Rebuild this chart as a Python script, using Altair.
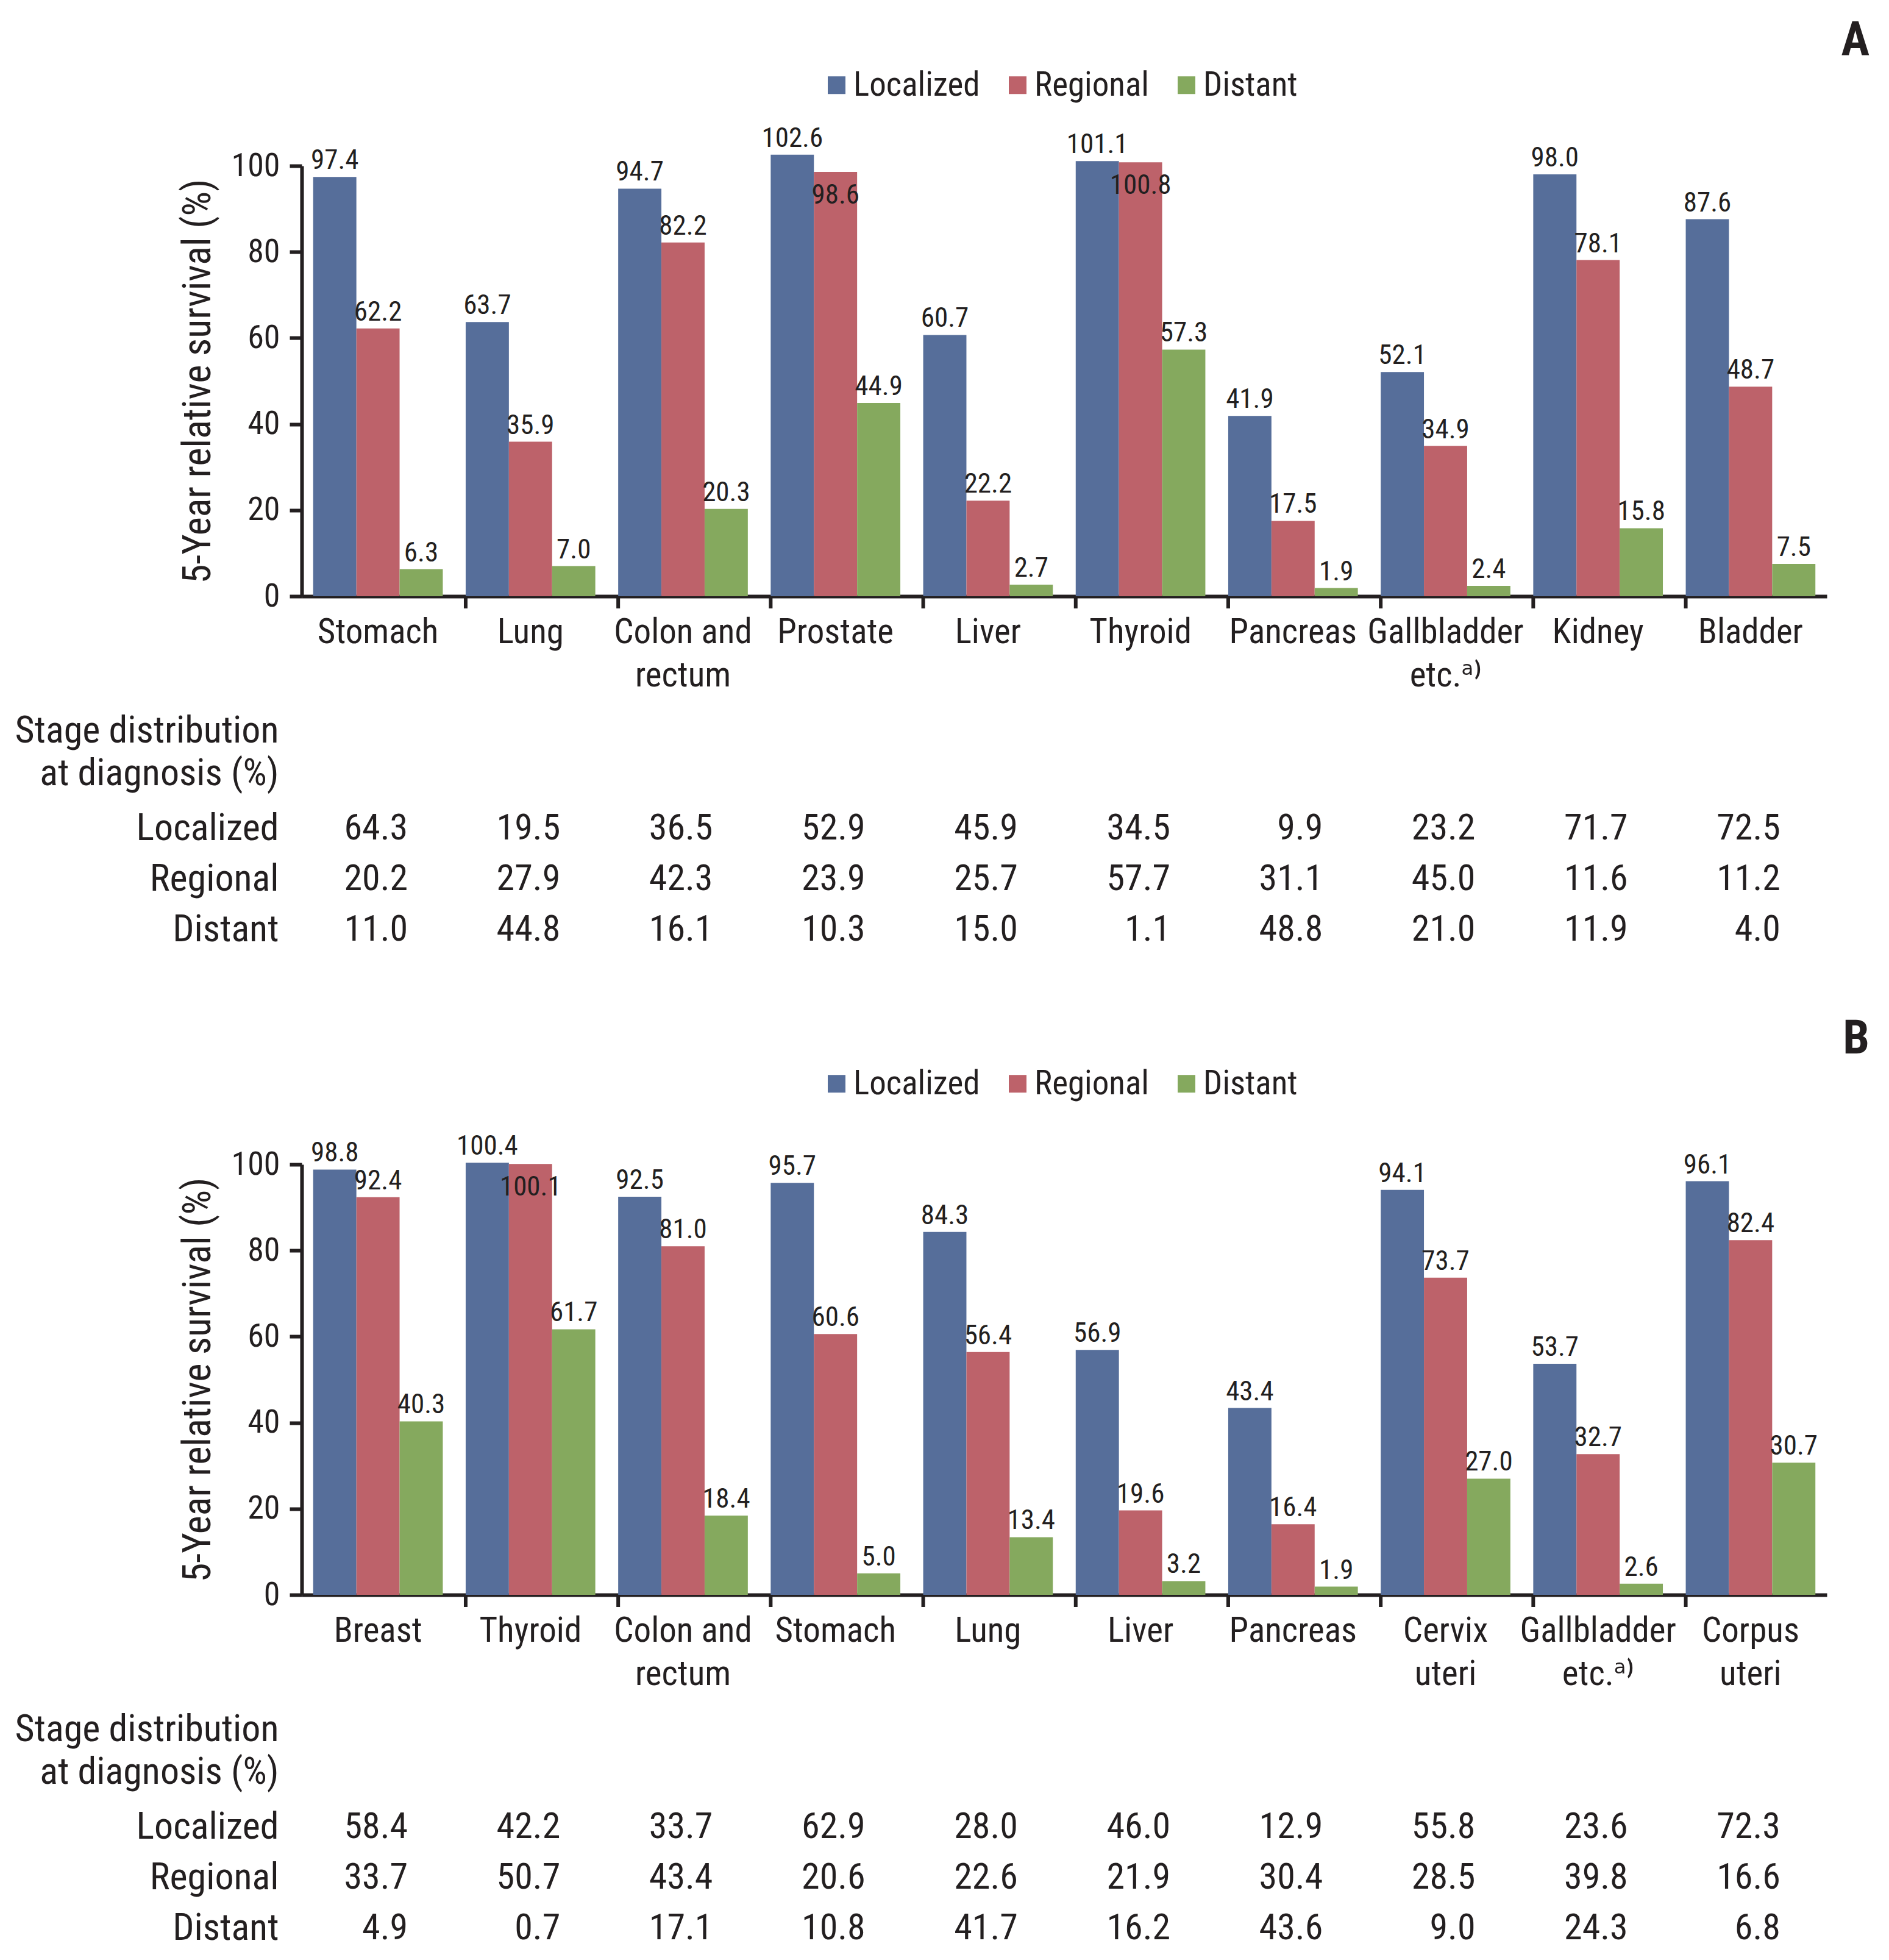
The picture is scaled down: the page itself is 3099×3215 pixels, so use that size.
import altair as alt
import pandas as pd

FONT = "Liberation Sans Narrow, Roboto Condensed, DejaVu Sans Condensed, sans-serif"
INK = "#231F20"

stages = ["Localized", "Regional", "Distant"]
stage_colors = ["#566E9A", "#BD626A", "#85A95E"]

# Panel A
cats_a = ["Stomach", "Lung", "Colon and\nrectum", "Prostate", "Liver", "Thyroid",
          "Pancreas", "Gallbladder\netc.\u1d43\u207e", "Kidney", "Bladder"]
surv_loc_a = [97.4, 63.7, 94.7, 102.6, 60.7, 101.1, 41.9, 52.1, 98.0, 87.6]
surv_reg_a = [62.2, 35.9, 82.2, 98.6, 22.2, 100.8, 17.5, 34.9, 78.1, 48.7]
surv_dis_a = [6.3, 7.0, 20.3, 44.9, 2.7, 57.3, 1.9, 2.4, 15.8, 7.5]
dist_loc_a = [64.3, 19.5, 36.5, 52.9, 45.9, 34.5, 9.9, 23.2, 71.7, 72.5]
dist_reg_a = [20.2, 27.9, 42.3, 23.9, 25.7, 57.7, 31.1, 45.0, 11.6, 11.2]
dist_dis_a = [11.0, 44.8, 16.1, 10.3, 15.0, 1.1, 48.8, 21.0, 11.9, 4.0]

# Panel B
cats_b = ["Breast", "Thyroid", "Colon and\nrectum", "Stomach", "Lung", "Liver",
          "Pancreas", "Cervix\nuteri", "Gallbladder\netc.\u1d43\u207e", "Corpus\nuteri"]
surv_loc_b = [98.8, 100.4, 92.5, 95.7, 84.3, 56.9, 43.4, 94.1, 53.7, 96.1]
surv_reg_b = [92.4, 100.1, 81.0, 60.6, 56.4, 19.6, 16.4, 73.7, 32.7, 82.4]
surv_dis_b = [40.3, 61.7, 18.4, 5.0, 13.4, 3.2, 1.9, 27.0, 2.6, 30.7]
dist_loc_b = [58.4, 42.2, 33.7, 62.9, 28.0, 46.0, 12.9, 55.8, 23.6, 72.3]
dist_reg_b = [33.7, 50.7, 43.4, 20.6, 22.6, 21.9, 30.4, 28.5, 39.8, 16.6]
dist_dis_b = [4.9, 0.7, 17.1, 10.8, 41.7, 16.2, 43.6, 9.0, 24.3, 6.8]

y_ticks = [0, 20, 40, 60, 80, 100]

W = 2502
H = 706
ROW_H = 83


def panel(cats, sl, sr, sd, dl, dr, dd, letter):
    surv = pd.DataFrame([
        {"cat": c, "stage": s, "value": v[i]}
        for i, c in enumerate(cats)
        for s, v in zip(stages, [sl, sr, sd])
    ])
    dist = pd.DataFrame([
        {"cat": c, "row": s, "value": v[i]}
        for i, c in enumerate(cats)
        for s, v in zip(stages, [dl, dr, dd])
    ])
    bounds = pd.DataFrame({"cat": cats[1:]})

    xscale = alt.Scale(domain=cats, paddingInner=0.15, paddingOuter=0.075)
    xaxis = alt.Axis(title=None, labelAngle=0, labelExpr="split(datum.label, '\\n')",
                     labelFont=FONT, labelFontSize=57, labelColor=INK, labelLineHeight=71,
                     labelPadding=31, labelLimit=2000, ticks=False, tickSize=0,
                     domainWidth=6, domainColor=INK, grid=False)
    x = alt.X("cat:N", scale=xscale, axis=xaxis, sort=cats)
    xo = alt.XOffset("stage:N", sort=stages, scale=alt.Scale(domain=stages))
    y = alt.Y("value:Q", scale=alt.Scale(domain=[0, 100], nice=False, zero=True),
              axis=alt.Axis(title="5-Year relative survival (%)", values=y_ticks,
                            titleFont=FONT, titleFontSize=64, titleFontWeight="normal",
                            titleColor=INK, titlePadding=22,
                            labelFont=FONT, labelFontSize=54, labelColor=INK,
                            labelPadding=16, tickSize=20, tickWidth=6, tickColor=INK,
                            domainWidth=6, domainColor=INK, grid=False))
    color = alt.Color("stage:N", sort=stages,
                      scale=alt.Scale(domain=stages, range=stage_colors),
                      legend=alt.Legend(title=None, orient="none", direction="horizontal",
                                        legendX=850, legendY=-160,
                                        symbolType="square", symbolSize=841,
                                        symbolStrokeWidth=0, labelFont=FONT,
                                        labelFontSize=55, labelColor=INK,
                                        labelLimit=2000,
                                        labelOffset=0, columnPadding=34))

    bars = alt.Chart(surv).mark_bar().encode(x=x, xOffset=xo, y=y, color=color)
    lab_out = alt.Chart(surv).transform_filter(
        "!(datum.stage == 'Regional' && datum.value > 98)"
    ).mark_text(baseline="bottom", dy=-4, font=FONT, fontSize=45, color=INK).encode(
        x=x, xOffset=xo, y=y, text=alt.Text("value:Q", format=".1f"))
    lab_in = alt.Chart(surv).transform_filter(
        "datum.stage == 'Regional' && datum.value > 98"
    ).mark_text(baseline="top", dy=16, font=FONT, fontSize=45, color=INK).encode(
        x=x, xOffset=xo, y=y, text=alt.Text("value:Q", format=".1f"))
    ticks = alt.Chart(bounds).mark_rule(strokeWidth=6, color=INK).encode(
        x=alt.X("cat:N", scale=xscale, axis=xaxis, sort=cats, bandPosition=0),
        y=alt.value(H), y2=alt.value(H + 20))

    top = alt.layer(bars, lab_out, lab_in, ticks).properties(
        width=W, height=H,
        title=alt.TitleParams(letter, anchor="end", font=FONT, fontSize=78,
                              fontWeight="bold", color=INK, dx=70, offset=6),
    )

    table = alt.Chart(dist).mark_text(align="right", dx=49, font=FONT, fontSize=60,
                                      color=INK).encode(
        x=alt.X("cat:N", scale=alt.Scale(domain=cats, paddingInner=0.15, paddingOuter=0.075),
                axis=None, sort=cats),
        y=alt.Y("row:N", sort=stages, scale=alt.Scale(domain=stages),
                axis=alt.Axis(title=["Stage distribution", "at diagnosis (%)"],
                              titleAngle=0, titleAlign="right", titleBaseline="middle",
                              titleX=-38, titleY=-119, titleLineHeight=70,
                              titleFont=FONT, titleFontSize=62, titleFontWeight="normal",
                              titleColor=INK, labelFont=FONT, labelFontSize=62,
                              labelColor=INK, labelPadding=38, labelLimit=2000,
                              ticks=False, tickSize=0,
                              domain=False, grid=False)),
        text=alt.Text("value:Q", format=".1f"),
    ).properties(width=W, height=3 * ROW_H)

    return alt.vconcat(top, table, spacing=31).resolve_scale(color="independent", x="independent")


pa = panel(cats_a, surv_loc_a, surv_reg_a, surv_dis_a, dist_loc_a, dist_reg_a, dist_dis_a, "A")
pb = panel(cats_b, surv_loc_b, surv_reg_b, surv_dis_b, dist_loc_b, dist_reg_b, dist_dis_b, "B")

chart = alt.vconcat(pa, pb, spacing=100).resolve_scale(color="independent").properties(
    padding={"left": 15, "top": 20, "right": 5, "bottom": 5},
    background="white",
).configure_view(strokeWidth=0)

chart.save("out.html", embed_options={"renderer": "svg", "actions": False})
